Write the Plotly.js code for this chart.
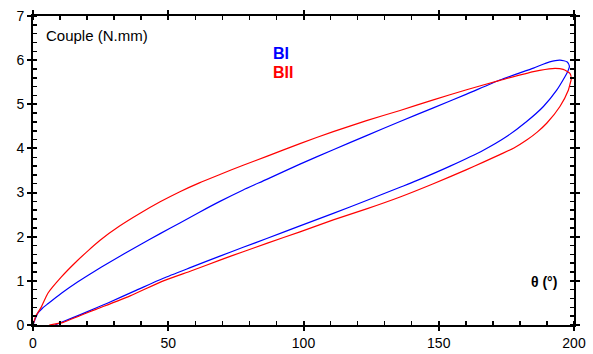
<!DOCTYPE html>
<html>
<head>
<meta charset="utf-8">
<script src="https://cdn.plot.ly/plotly-3.0.1.min.js"></script>
<style>html,body{margin:0;padding:0;background:#fff;}#chart{width:593px;height:354px;}</style>
</head>
<body>
<div id="chart"></div>
<script>
// BI (blue) hysteresis loop: loading branch, tip, unloading branch
const biTheta = [0, 0.7, 1.8, 3.5, 5.5, 10.5, 16.6, 22.8, 27.7, 39.6, 47, 54.3, 61.7, 69.1, 77.7, 86.4, 98.7, 111, 123.3, 135.7, 148, 160.3, 172.6, 185, 191, 194.8, 197.5, 198.3, 197.5,
  196.7, 193.6, 188.7, 182.5, 175.1, 166.5, 154.2, 141.8, 135.7, 123.3, 111, 98.7, 86.4, 77.7, 69.1, 58.6, 48.2, 38.3, 27.7, 23.5, 17.3, 11.2, 8.1];
const biCouple = [0, 0.12, 0.27, 0.38, 0.48, 0.72, 0.98, 1.22, 1.40, 1.82, 2.07, 2.31, 2.56, 2.80, 3.06, 3.30, 3.645, 3.97, 4.29, 4.61, 4.92, 5.23, 5.55, 5.82, 5.96, 6.00, 5.96, 5.86, 5.72,
  5.63, 5.32, 4.95, 4.61, 4.27, 3.96, 3.60, 3.27, 3.12, 2.82, 2.53, 2.245, 1.96, 1.76, 1.56, 1.31, 1.06, 0.79, 0.50, 0.39, 0.23, 0.08, 0];

// BII (red) hysteresis loop
const biiTheta = [0, 1.0, 3.1, 5.5, 10.5, 15.4, 20.3, 24.8, 32, 39.6, 47, 54.3, 61.5, 69.1, 77.7, 86.4, 98.7, 111, 123.3, 135.7, 148, 160.3, 172.6, 185, 192, 196, 198.5, 199, 198.5,
  197.9, 194.8, 189.9, 186.4, 182.5, 177.8, 172.6, 166.5, 160.3, 148, 135.7, 123.3, 111, 98.7, 86.4, 77.7, 69.1, 58.6, 48.2, 35.9, 23.5, 17.3, 11.2, 6.0];
const biiCouple = [0, 0.20, 0.41, 0.72, 1.09, 1.40, 1.68, 1.92, 2.24, 2.53, 2.79, 3.02, 3.22, 3.41, 3.62, 3.82, 4.11, 4.38, 4.63, 4.86, 5.10, 5.33, 5.54, 5.74, 5.81, 5.79, 5.70, 5.58, 5.45,
  5.32, 4.95, 4.57, 4.37, 4.19, 4.01, 3.86, 3.69, 3.52, 3.20, 2.90, 2.63, 2.38, 2.11, 1.85, 1.66, 1.47, 1.23, 1.00, 0.66, 0.36, 0.21, 0.06, 0];

const xTicks = [0, 50, 100, 150, 200];
const yTicks = [0, 1, 2, 3, 4, 5, 6, 7];

const font = 'Liberation Sans, Arial, sans-serif';

const traces = [
  {x: biTheta, y: biCouple, type: 'scatter', mode: 'lines', line: {color: '#0000ff', width: 1.2, shape: 'spline', smoothing: 0.6}, name: 'BI', hoverinfo: 'skip'},
  {x: biiTheta, y: biiCouple, type: 'scatter', mode: 'lines', line: {color: '#ff0000', width: 1.2, shape: 'spline', smoothing: 0.6}, name: 'BII', hoverinfo: 'skip'}
];

const axBase = {
  showgrid: false, zeroline: false, showline: true, linecolor: '#000', linewidth: 2,
  ticks: 'outside', ticklen: 4, tickwidth: 2, tickcolor: '#000', mirror: 'allticks',
  tickfont: {family: font, size: 14, color: '#000'}, fixedrange: true
};

const layout = {
  width: 593, height: 354,
  margin: {l: 33, r: 19, t: 16, b: 29, pad: 0},
  paper_bgcolor: '#fff', plot_bgcolor: '#fff',
  showlegend: false,
  xaxis: Object.assign({}, axBase, {
    range: [0, 200], tickvals: xTicks, ticktext: xTicks.map(String),
    minor: {dtick: 10, tick0: 0, ticks: 'inside', ticklen: 4, tickwidth: 1.5, tickcolor: '#000'}
  }),
  yaxis: Object.assign({}, axBase, {
    range: [0, 7], tickvals: yTicks, ticktext: yTicks.map(String),
    minor: {dtick: 0.2, tick0: 0, ticks: 'inside', ticklen: 4, tickwidth: 1.5, tickcolor: '#000'}
  }),
  xaxis2: {overlaying: 'x', anchor: 'y', range: [0, 200], tickvals: xTicks, ticks: 'inside', ticklen: 4, tickwidth: 2, tickcolor: '#000',
    mirror: 'ticks', showticklabels: false, showgrid: false, zeroline: false, showline: false, fixedrange: true},
  yaxis2: {overlaying: 'y', anchor: 'x', range: [0, 7], tickvals: yTicks, ticks: 'inside', ticklen: 4, tickwidth: 2, tickcolor: '#000',
    mirror: 'ticks', showticklabels: false, showgrid: false, zeroline: false, showline: false, fixedrange: true},
  annotations: [
    {x: 4.2, y: 6.55, xref: 'x', yref: 'y', xanchor: 'left', yanchor: 'middle', showarrow: false,
     text: 'Couple (N.mm)', font: {family: font, size: 15, color: '#000'}},
    {x: 194.3, y: 0.97, xref: 'x', yref: 'y', xanchor: 'right', yanchor: 'middle', showarrow: false,
     text: '<b>θ (°)</b>', font: {family: font, size: 14, color: '#000'}},
    {x: 88.0, y: 6.16, xref: 'x', yref: 'y', xanchor: 'left', yanchor: 'middle', showarrow: false,
     text: '<b>BI</b>', font: {family: font, size: 16, color: '#0000ff'}},
    {x: 88.0, y: 5.71, xref: 'x', yref: 'y', xanchor: 'left', yanchor: 'middle', showarrow: false,
     text: '<b>BII</b>', font: {family: font, size: 16, color: '#ff0000'}}
  ]
};

// invisible helper trace so the overlay tick axes are created
traces.push({x: [], y: [], xaxis: 'x2', yaxis: 'y2', type: 'scatter', mode: 'lines', hoverinfo: 'skip', showlegend: false});

Plotly.newPlot('chart', traces, layout, {staticPlot: true, displayModeBar: false});
</script>
</body>
</html>
